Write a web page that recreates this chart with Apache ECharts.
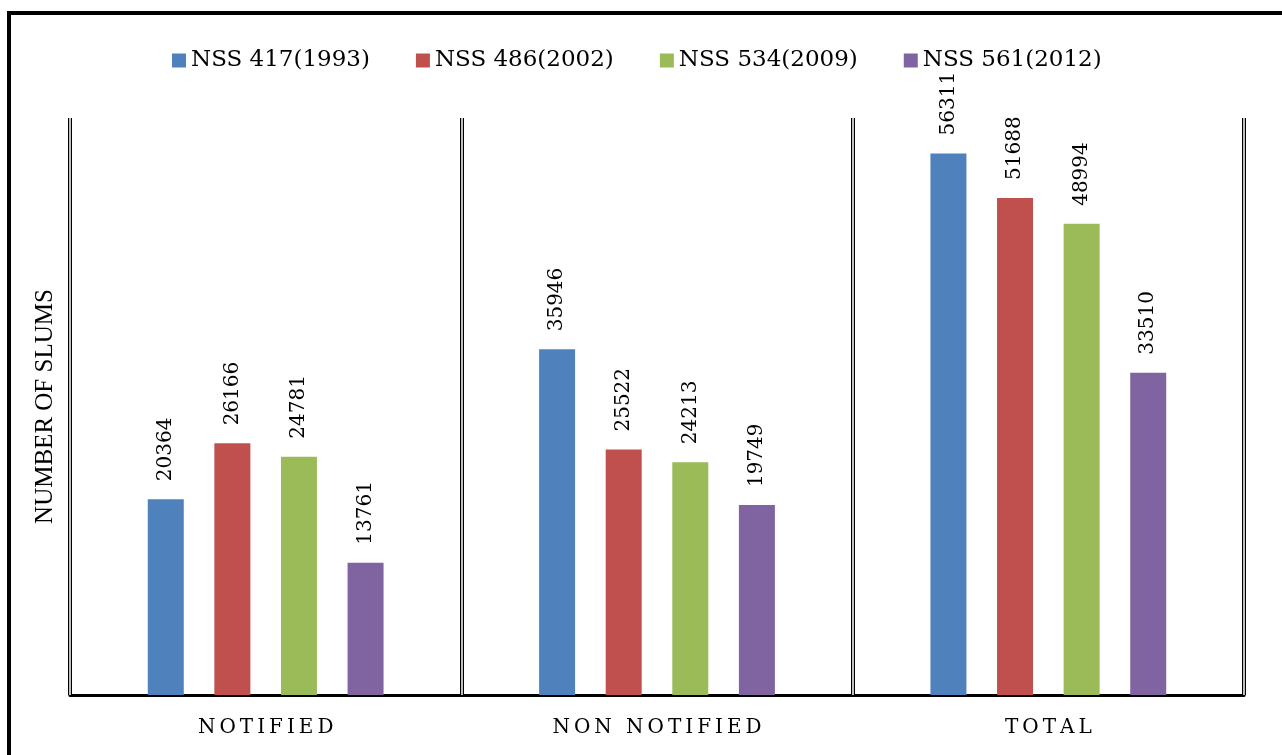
<!DOCTYPE html>
<html>
<head>
<meta charset="utf-8">
<script src="https://cdn.jsdelivr.net/npm/echarts@6/dist/echarts.min.js"></script>
<style>html,body{margin:0;padding:0;background:#fff;}#c{width:1282px;height:755px;}</style>
</head>
<body>
<div id="c"></div>
<script>
var categories = ['NOTIFIED', 'NON NOTIFIED', 'TOTAL'];
var seriesNames = ['NSS 417(1993)', 'NSS 486(2002)', 'NSS 534(2009)', 'NSS 561(2012)'];
var nss417 = [20364, 35946, 56311];
var nss486 = [26166, 25522, 51688];
var nss534 = [24781, 24213, 48994];
var nss561 = [13761, 19749, 33510];
var colors = ['#4F81BD', '#C0504D', '#9BBB59', '#8064A2'];
var yMax = 60000;

var chart = echarts.init(document.getElementById('c'), null, {renderer: 'canvas'});
var values = [nss417, nss486, nss534, nss561];
var series = seriesNames.map(function (n, i) {
  return {
    name: n,
    type: 'bar',
    data: values[i],
    barWidth: 36,
    barGap: '85%',
    itemStyle: {color: colors[i]},
    label: {
      show: true,
      position: 'top',
      rotate: 90,
      align: 'left',
      verticalAlign: 'middle',
      distance: 18,
      fontFamily: 'DejaVu Serif',
      fontSize: 20,
      color: '#000'
    }
  };
});
function spaced(v) { return v.split('').join('\u2009'); }
chart.setOption({
  animation: false,
  backgroundColor: '#fff',
  color: colors,
  graphic: [{
    type: 'rect',
    shape: {x: 9, y: 13, width: 1300, height: 800},
    style: {fill: 'none', stroke: '#000', lineWidth: 4},
    silent: true
  }],
  legend: {
    left: 167, top: 44,
    icon: 'rect', itemWidth: 14, itemHeight: 14, itemGap: 46,
    textStyle: {fontFamily: 'DejaVu Serif', fontSize: 23, color: '#000'},
    data: seriesNames
  },
  grid: {left: 70, right: 38, top: 118, bottom: 60},
  xAxis: [{
    type: 'category',
    data: categories,
    axisLine: {show: true, lineStyle: {color: '#000', width: 3}},
    axisTick: {show: false},
    splitLine: {show: true, lineStyle: {color: '#000', width: 4}},
    axisLabel: {
      margin: 23,
      fontFamily: 'DejaVu Serif', fontSize: 20, color: '#000',
      formatter: spaced
    }
  }, {
    type: 'category',
    data: categories,
    position: 'bottom',
    z: 5,
    axisLine: {show: false},
    axisTick: {show: false},
    axisLabel: {show: false},
    splitLine: {show: true, lineStyle: {color: '#fff', width: 1.5}}
  }],
  yAxis: {
    type: 'value',
    min: 0, max: yMax,
    name: 'NUMBER OF SLUMS',
    nameLocation: 'middle',
    nameGap: 12,
    nameTextStyle: {fontFamily: 'Liberation Serif', fontSize: 25, color: '#000'},
    axisLine: {show: false},
    axisTick: {show: false},
    axisLabel: {show: false},
    splitLine: {show: false}
  },
  series: series
});
</script>
</body>
</html>
